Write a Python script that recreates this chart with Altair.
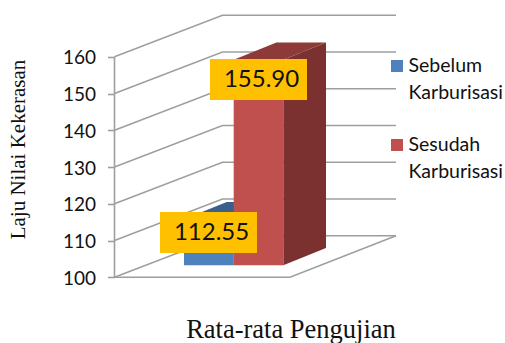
import altair as alt
import pandas as pd

# Data
series = ["Sebelum Karburisasi", "Sesudah Karburisasi"]
values = [112.55, 155.90]
legend_lines = [["Sebelum", "Karburisasi"], ["Sesudah", "Karburisasi"]]
front_colors = ["#4F81BD", "#C0504D"]
top_colors = ["#3A5F8B", "#8E3A38"]
side_colors = ["#2F4F76", "#7A3130"]
tick_values = [100, 110, 120, 130, 140, 150, 160]

# Canvas geometry of the oblique 3D frame
W, H = 505, 343
LEFT = 114.5
BASE_PX = 277.3
UNIT_PX = 36.75 / 10
WALL_DX, WALL_DY = 108, 41.5
WALL_RIGHT = 396
FLOOR_FRONT_RIGHT = 290
BAR_BASE_PX = 265.3
BAR_LEFTS = [184, 233.7]
BAR_W = 49.6
BAR_DX, BAR_DY = 42.7, 17.3


def val_of(py):
    return 100 + (BASE_PX - py) / UNIT_PX


def xd(px):
    return px - LEFT


x_scale = alt.Scale(domain=[0, W - LEFT], range=[0, W - LEFT], nice=False, zero=False)
y_scale = alt.Scale(domain=[val_of(H), val_of(0)], range=[H, 0], nice=False, zero=False)
x_axis = alt.Axis(
    title="Rata-rata Pengujian", labels=False, ticks=False, domain=False, grid=False,
    titleFont="Liberation Serif", titleFontSize=26.5, titleFontWeight="normal",
    titleColor="#111111", titleX=176, titleY=-14, titleAlign="center", titleBaseline="middle",
)
y_axis = alt.Axis(
    values=tick_values, title="Laju Nilai Kekerasan", domain=False, grid=False,
    tickColor="#9E9E9E", tickSize=7, tickWidth=1.6, labelPadding=12, labelOffset=1,
    labelFont="Lato", labelFontSize=19, labelColor="#111111",
    titleFont="Liberation Serif", titleFontSize=21, titleFontWeight="normal",
    titleColor="#111111", titleX=-96, titleY=149, titleAlign="center", titleBaseline="middle",
)
X = alt.X("x:Q", scale=x_scale, axis=x_axis)
Y = alt.Y("y:Q", scale=y_scale, axis=y_axis)
GRID = "#9E9E9E"

# Wall gridlines, running from the value axis back and then along the rear wall
grid_rows = []
for t in tick_values:
    yb = val_of(BASE_PX - (t - 100) * UNIT_PX - WALL_DY)
    y0 = float(t)
    grid_rows += [
        {"g": t, "i": 0, "x": 0, "y": y0},
        {"g": t, "i": 1, "x": WALL_DX, "y": yb},
        {"g": t, "i": 2, "x": xd(WALL_RIGHT), "y": yb},
    ]
grid = alt.Chart(pd.DataFrame(grid_rows)).mark_line(color=GRID, strokeWidth=1.5).encode(
    x=X, y=Y, detail="g:N", order="i:Q"
)

# Front and right edges of the floor
floor_rows = [
    {"i": 0, "x": 0, "y": 100.0},
    {"i": 1, "x": xd(FLOOR_FRONT_RIGHT), "y": 100.0},
    {"i": 2, "x": xd(WALL_RIGHT), "y": val_of(BASE_PX - WALL_DY)},
]
floor = alt.Chart(pd.DataFrame(floor_rows)).mark_line(color=GRID, strokeWidth=1.5).encode(
    x=X, y=Y, order="i:Q"
)

# Value axis line
axis_df = pd.DataFrame({"x": [0], "y": [100.0], "y2": [160.0]})
axis_line = alt.Chart(axis_df).mark_rule(color=GRID, strokeWidth=1.6).encode(
    x=X, y=Y, y2="y2:Q",
)

# Bars: side, top and front faces for each series
bar_layers = []
base_val = val_of(BAR_BASE_PX)
lift = (BASE_PX - BAR_BASE_PX) / UNIT_PX
depth = BAR_DY / UNIT_PX
for i, v in enumerate(values):
    l = xd(BAR_LEFTS[i])
    r = l + BAR_W
    top = v + lift
    side = pd.DataFrame({
        "x": [r, r + BAR_DX], "y": [top, top + depth], "y2": [base_val, base_val + depth],
    })
    bar_layers.append(alt.Chart(side).mark_area(color=side_colors[i]).encode(x=X, y=Y, y2="y2:Q"))
    lid = pd.DataFrame({
        "y": [top, top + depth], "x": [l, l + BAR_DX], "x2": [r, r + BAR_DX],
    })
    bar_layers.append(
        alt.Chart(lid).mark_area(color=top_colors[i], orient="horizontal").encode(x=X, x2="x2:Q", y=Y)
    )
    face = pd.DataFrame({"x": [l], "x2": [r], "y": [top], "y2": [base_val]})
    bar_layers.append(
        alt.Chart(face).mark_rect(color=front_colors[i]).encode(x=X, x2="x2:Q", y=Y, y2="y2:Q")
    )

# Value callouts on amber boxes
BOX_W, BOX_H = 97, 41
box_centers = [(208.5, 232.5), (258.5, 79.5)]
box_rows = []
for v, (cx, cy) in zip(values, box_centers):
    box_rows.append({
        "x": xd(cx - BOX_W / 2), "x2": xd(cx + BOX_W / 2),
        "y": val_of(cy - BOX_H / 2), "y2": val_of(cy + BOX_H / 2),
        "tx": xd(cx + 3), "ty": val_of(cy), "value": v,
    })
box_df = pd.DataFrame(box_rows)
boxes = alt.Chart(box_df).mark_rect(color="#FFC000").encode(x=X, x2="x2:Q", y=Y, y2="y2:Q")
box_text = alt.Chart(box_df).mark_text(
    font="Lato", fontSize=24, color="#111111", align="center", baseline="middle"
).encode(
    x=alt.X("tx:Q", scale=x_scale, axis=x_axis),
    y=alt.Y("ty:Q", scale=y_scale, axis=y_axis),
    text=alt.Text("value:Q", format=".2f"),
)

# Legend swatches and their two-line labels
swatch_tops = [60, 139]
swatch_df = pd.DataFrame([
    {"x": xd(391), "x2": xd(403), "y": val_of(t), "y2": val_of(t + 12), "c": c}
    for t, c in zip(swatch_tops, front_colors)
])
swatches = alt.Chart(swatch_df).mark_rect().encode(
    x=X, x2="x2:Q", y=Y, y2="y2:Q", color=alt.Color("c:N", scale=None)
)
legend_rows = []
for t, pair in zip(swatch_tops, legend_lines):
    legend_rows.append({"x": xd(408.5), "y": val_of(t + 5.5), "t": pair[0]})
    legend_rows.append({"x": xd(408.5), "y": val_of(t + 32.5), "t": pair[1]})
legend_text = alt.Chart(pd.DataFrame(legend_rows)).mark_text(
    font="Lato", fontSize=19.5, color="#111111", align="left", baseline="middle"
).encode(x=X, y=Y, text="t:N")

chart = alt.layer(
    axis_line, grid, floor, *bar_layers, boxes, box_text, swatches, legend_text
).properties(
    width=W - LEFT,
    height=H,
    padding={"left": LEFT, "top": 0, "right": 0, "bottom": 0},
    autosize=alt.AutoSizeParams(type="none"),
    background="white",
).configure_view(stroke=None)

chart.save("out.html", embed_options={"renderer": "svg", "actions": False})
